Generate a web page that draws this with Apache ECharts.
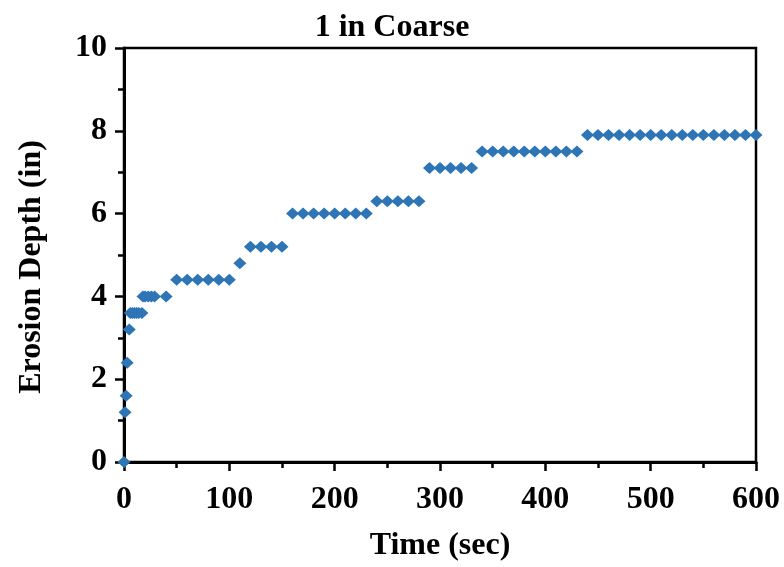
<!DOCTYPE html>
<html><head><meta charset="utf-8">
<script src="https://cdn.jsdelivr.net/npm/echarts@6/dist/echarts.min.js"></script>
<style>html,body{margin:0;padding:0;background:#fff}#c{width:784px;height:567px}</style>
</head><body><div id="c"></div>
<script>
const timeSec = [0,1,2,3,5,6,8,10,12,14,17,18,20,23,26,29,40,
  50,60,70,80,90,100,110,120,130,140,150,
  160,170,180,190,200,210,220,230,
  240,250,260,270,280,
  290,300,310,320,330,
  340,350,360,370,380,390,400,410,420,430,
  440,450,460,470,480,490,500,510,520,530,540,550,560,570,580,590,600];
const depthIn = [0,1.2,1.6,2.4,3.2,3.6,3.6,3.6,3.6,3.6,3.6,4.0,4.0,4.0,4.0,4.0,4.0,
  4.4,4.4,4.4,4.4,4.4,4.4,4.8,5.2,5.2,5.2,5.2,
  6.0,6.0,6.0,6.0,6.0,6.0,6.0,6.0,
  6.3,6.3,6.3,6.3,6.3,
  7.1,7.1,7.1,7.1,7.1,
  7.5,7.5,7.5,7.5,7.5,7.5,7.5,7.5,7.5,7.5,
  7.9,7.9,7.9,7.9,7.9,7.9,7.9,7.9,7.9,7.9,7.9,7.9,7.9,7.9,7.9,7.9,7.9];
const titleText = '1 in Coarse';
const xName = 'Time (sec)';
const yName = 'Erosion Depth (in)';

const font = '"Liberation Serif", "Times New Roman", serif';
const chart = echarts.init(document.getElementById('c'), null, {renderer:'canvas'});
chart.setOption({
  animation:false,
  backgroundColor:'#fff',
  title:{text:titleText,left:'center',top:7,
    textStyle:{fontFamily:font,fontWeight:'bold',fontSize:32,color:'#000'}},
  grid:{left:124,right:28,top:48,bottom:105,show:true,borderColor:'#000',borderWidth:2.5},
  xAxis:{type:'value',min:0,max:600,interval:100,
    name:xName,nameLocation:'middle',nameGap:68,
    nameTextStyle:{fontFamily:font,fontWeight:'bold',fontSize:32,color:'#000'},
    axisLine:{lineStyle:{color:'#000',width:3}},
    axisTick:{show:true,length:9,inside:false,lineStyle:{color:'#000',width:2.5}},
    minorTick:{show:true,splitNumber:2,length:6,lineStyle:{color:'#000',width:2.5}},
    splitLine:{show:false},
    axisLabel:{margin:22,fontFamily:font,fontWeight:'bold',fontSize:32,color:'#000'}},
  yAxis:{type:'value',min:0,max:10,interval:2,
    name:yName,nameLocation:'middle',nameGap:76,nameRotate:90,
    nameTextStyle:{fontFamily:font,fontWeight:'bold',fontSize:32,color:'#000',padding:[0,24,0,0]},
    axisLine:{lineStyle:{color:'#000',width:3}},
    axisTick:{show:true,length:9,lineStyle:{color:'#000',width:2.5}},
    minorTick:{show:true,splitNumber:2,length:6,lineStyle:{color:'#000',width:2.5}},
    splitLine:{show:false},
    axisLabel:{margin:17,fontFamily:font,fontWeight:'bold',fontSize:32,color:'#000'}},
  series:[{type:'scatter',symbol:'diamond',symbolSize:[13,12],
    itemStyle:{color:'#2E75B6',opacity:1},
    data:timeSec.map((t,i)=>[t,depthIn[i]])}]
});
</script></body></html>
